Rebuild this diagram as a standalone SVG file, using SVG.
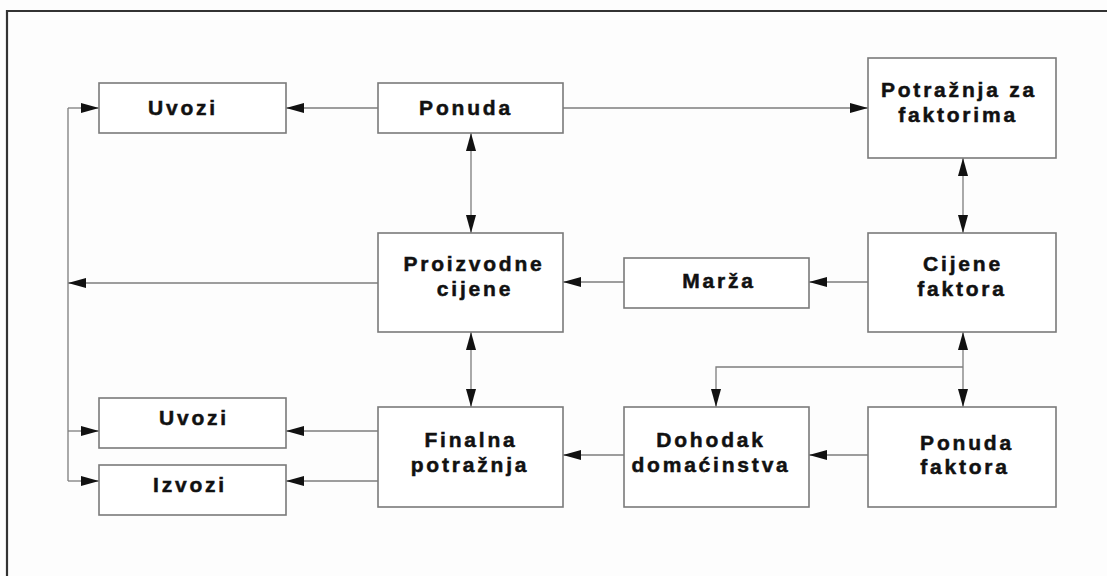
<svg xmlns="http://www.w3.org/2000/svg" width="1107" height="576" viewBox="0 0 1107 576">
  <style>
    .frame { stroke: #333; stroke-width: 2.2; fill: none; }
    .box rect { fill: #fff; stroke: #7a7a7a; stroke-width: 1.6; }
    .box text { font-family: "Liberation Sans", Arial, sans-serif; font-weight: bold; font-size: 21px; letter-spacing: 2.8px; fill: #111; stroke: #111; stroke-width: 0.5; text-anchor: middle; }
    .link { stroke: #7d7d7d; stroke-width: 1.3; fill: none; }
    .one { marker-end: url(#head); }
    .two { marker-start: url(#head); marker-end: url(#head); }
  </style>
  <defs>
    <marker id="head" markerUnits="userSpaceOnUse" markerWidth="18" markerHeight="11" refX="18" refY="5.5" orient="auto-start-reverse">
      <path d="M0,0.5 L18,5.5 L0,10.5 z" fill="#111"/>
    </marker>
  </defs>

  <rect width="1107" height="576" fill="#fdfdfd"/>

  <!-- outer frame -->
  <path class="frame" d="M7,576 V11 H1107"/>

  <!-- connectors -->
  <g id="connectors">
    <line class="link one" x1="378" y1="108" x2="286" y2="108"/>
    <line class="link one" x1="563" y1="108" x2="868" y2="108"/>
    <line class="link two" x1="471" y1="133" x2="471" y2="233"/>
    <line class="link two" x1="963" y1="158" x2="963" y2="233"/>
    <line class="link one" x1="868" y1="282" x2="809" y2="282"/>
    <line class="link one" x1="624" y1="282" x2="563" y2="282"/>
    <line class="link one" x1="378" y1="283" x2="68" y2="283"/>
    <line class="link" x1="68" y1="108" x2="68" y2="481"/>
    <line class="link one" x1="68" y1="108" x2="99" y2="108"/>
    <line class="link one" x1="68" y1="431" x2="99" y2="431"/>
    <line class="link one" x1="68" y1="481" x2="99" y2="481"/>
    <line class="link two" x1="471" y1="332" x2="471" y2="407"/>
    <line class="link two" x1="963" y1="332" x2="963" y2="407"/>
    <path class="link one" d="M963,367 H716 V407"/>
    <line class="link one" x1="868" y1="455" x2="809" y2="455"/>
    <line class="link one" x1="624" y1="455" x2="563" y2="455"/>
    <line class="link one" x1="378" y1="431" x2="286" y2="431"/>
    <line class="link one" x1="378" y1="481" x2="286" y2="481"/>
  </g>

  <!-- nodes -->
  <g id="uvozi-top" class="box">
    <rect x="99" y="83" width="187" height="50"/>
    <text x="183" y="115">Uvozi</text>
  </g>
  <g id="ponuda" class="box">
    <rect x="378" y="83" width="185" height="50"/>
    <text x="466" y="115">Ponuda</text>
  </g>
  <g id="potraznja-faktorima" class="box">
    <rect x="868" y="58" width="188" height="100"/>
    <text x="959" y="97">Potražnja za</text>
    <text x="958" y="122">faktorima</text>
  </g>
  <g id="proizvodne-cijene" class="box">
    <rect x="378" y="233" width="185" height="99"/>
    <text x="474" y="271">Proizvodne</text>
    <text x="475" y="296">cijene</text>
  </g>
  <g id="marza" class="box">
    <rect x="624" y="258" width="185" height="50"/>
    <text x="719" y="288">Marža</text>
  </g>
  <g id="cijene-faktora" class="box">
    <rect x="868" y="233" width="188" height="99"/>
    <text x="963" y="271">Cijene</text>
    <text x="962" y="296">faktora</text>
  </g>
  <g id="uvozi-bottom" class="box">
    <rect x="99" y="398" width="187" height="50"/>
    <text x="194" y="425">Uvozi</text>
  </g>
  <g id="izvozi" class="box">
    <rect x="99" y="465" width="187" height="50"/>
    <text x="190" y="492">Izvozi</text>
  </g>
  <g id="finalna-potraznja" class="box">
    <rect x="378" y="407" width="185" height="100"/>
    <text x="471" y="447">Finalna</text>
    <text x="470" y="472">potražnja</text>
  </g>
  <g id="dohodak-domacinstva" class="box">
    <rect x="624" y="407" width="185" height="100"/>
    <text x="711" y="447">Dohodak</text>
    <text x="711" y="472">domaćinstva</text>
  </g>
  <g id="ponuda-faktora" class="box">
    <rect x="868" y="407" width="188" height="100"/>
    <text x="967" y="450">Ponuda</text>
    <text x="965" y="474">faktora</text>
  </g>
</svg>
